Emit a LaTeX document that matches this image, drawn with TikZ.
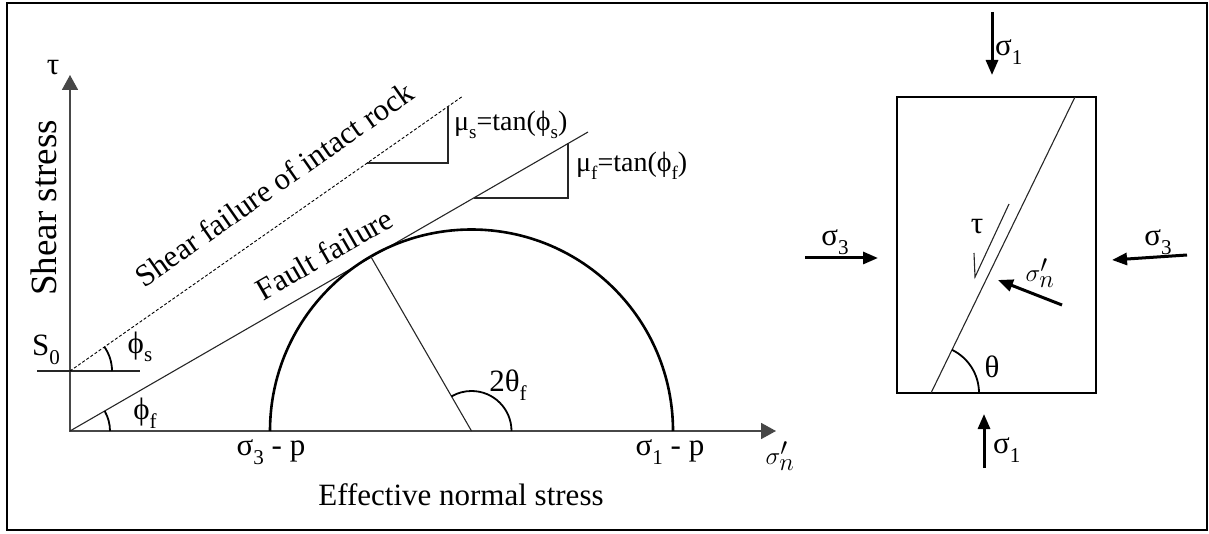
\documentclass[tikz,border=0pt]{standalone}
\usepackage{fontspec}
\setmainfont{Liberation Serif}
\usetikzlibrary{arrows.meta}
\newcommand\lo[1]{\raisebox{-0.28em}{\scalebox{0.68}{#1}}}
\begin{document}
\begin{tikzpicture}[x=1pt,y=1pt,
  lbl/.style={inner sep=0pt, font=\fontsize{31}{36}\selectfont},
  slbl/.style={inner sep=0pt, font=\fontsize{28}{32}\selectfont},
  axisline/.style={line width=1.8pt, draw=black!72},
  thinline/.style={line width=1.1pt, draw=black!85},
  anglearc/.style={line width=1.8pt},
  force/.style={line width=3pt, -{Triangle[length=15pt,width=12pt]}}
]
\useasboundingbox (0,0) rectangle (1209,533);
\draw[line width=2.2pt] (7,3) rectangle (1207,530);

% ---- Mohr diagram ----
\coordinate (O) at (70,102);
\coordinate (ytip) at (70,458);
\coordinate (xtip) at (776,102);
\coordinate (S0) at (70,162);
\coordinate (dashend) at (463,437);
\coordinate (faultend) at (588,401);
\coordinate (C) at (471.5,102);
\coordinate (L) at (270,102);
\coordinate (R) at (673,102);

\draw[axisline, {Triangle[length=15pt,width=16pt]}-{Triangle[length=15pt,width=16pt]}] (ytip) -- (O) -- (xtip);
\draw[thinline] (37,162) coordinate (s0a) -- (140,162) coordinate (s0b);
\draw[line width=0.9pt, dash pattern=on 3pt off 2pt] (S0) -- (dashend);
\draw[thinline] (O) -- (faultend);
\draw[line width=2.6pt] (R) arc[start angle=0,end angle=180,radius=201.5];
\draw[thinline] (C) -- ++(120:201.5) coordinate (T);

% angle arcs
\draw[anglearc] (511.5,102) arc[start angle=0,end angle=120,radius=40];
\draw[anglearc] (112,162) arc[start angle=0,end angle=35,radius=42];
\draw[anglearc] (110,102) arc[start angle=0,end angle=30,radius=40];

% slope triangles
\draw[thinline] (367,370) coordinate (ms1) -- (448,370) coordinate (ms2) -- (448,426.7) coordinate (ms3);
\draw[thinline] (473.5,335) coordinate (mf1) -- (568,335) coordinate (mf2) -- (568,389.5) coordinate (mf3);

% labels
\node[lbl] (tau) at (53,465) {τ};
\node[lbl] (s0lbl) at (46,183) {S\lo{0}};
\node[lbl] (phis) at (140,186) {ϕ\lo{s}};
\node[lbl] (phif) at (145,120) {ϕ\lo{f}};
\node[lbl] (twotheta) at (508,148) {2θ\lo{f}};
\node[slbl, anchor=west] (mus) at (454,408) {μ\lo{s}=tan(ϕ\lo{s})};
\node[slbl, anchor=west] (muf) at (576,367) {μ\lo{f}=tan(ϕ\lo{f})};
\node[lbl] (s3p) at (271,81) {σ\lo{3} - p};
\node[lbl] (s1p) at (670,81) {σ\lo{1} - p};
\node[inner sep=0pt, font=\fontsize{36}{40}\selectfont] (snx) at (780,77) {$\sigma_n'$};
\node[lbl] (xlab) at (461,38) {Effective normal stress};
\node[inner sep=0pt, font=\fontsize{37}{40}\selectfont, rotate=90] (ylab) at (44,325) {Shear stress};
\path (S0) -- (dashend) node[lbl, pos=0.572, sloped, above=25pt] (shearlbl) {Shear failure of intact rock};
\path (O) -- (faultend) node[lbl, pos=0.516, sloped, above=15pt] (faultlbl) {Fault failure};

% ---- Rock sample ----
\coordinate (b1) at (897,140);
\coordinate (b2) at (1096,436);
\coordinate (fb) at (931,140);
\coordinate (ft) at (1075,436);
\draw[line width=2.6pt] (b1) rectangle (b2);
\draw[thinline] (fb) -- (ft);
\draw[anglearc] (979,140) arc[start angle=0,end angle=64.06,radius=48];
\node[lbl] (theta) at (992,166) {θ};

\coordinate (t1a) at (992,521); \coordinate (t1b) at (992,458);
\coordinate (b1a) at (984,65);  \coordinate (b1b) at (984,119);
\coordinate (l3a) at (805,275); \coordinate (l3b) at (878,275);
\coordinate (r3a) at (1187,278); \coordinate (r3b) at (1112,273);
\coordinate (sna) at (1062,228); \coordinate (snb) at (998,253);
\draw[force] (t1a) -- (t1b);
\draw[force] (b1a) -- (b1b);
\draw[force] (l3a) -- (l3b);
\draw[force] (r3a) -- (r3b);
\draw[force] (sna) -- (snb);
\node[lbl, anchor=west] (s1top) at (995,481) {σ\lo{1}};
\node[lbl, anchor=west] (s1bot) at (993,83) {σ\lo{1}};
\node[lbl] (s3l) at (835,291) {σ\lo{3}};
\node[lbl] (s3r) at (1158,291) {σ\lo{3}};
\node[inner sep=0pt, font=\fontsize{36}{40}\selectfont] (snlbl) at (1040,260) {$\sigma_n'$};

\coordinate (ha) at (1009,329); \coordinate (hb) at (975,256); \coordinate (hc) at (974,280);
\draw[thinline] (ha) -- (hb) -- (hc);
\node[lbl] (taulbl) at (977,306) {τ};
\end{tikzpicture}
\end{document}
